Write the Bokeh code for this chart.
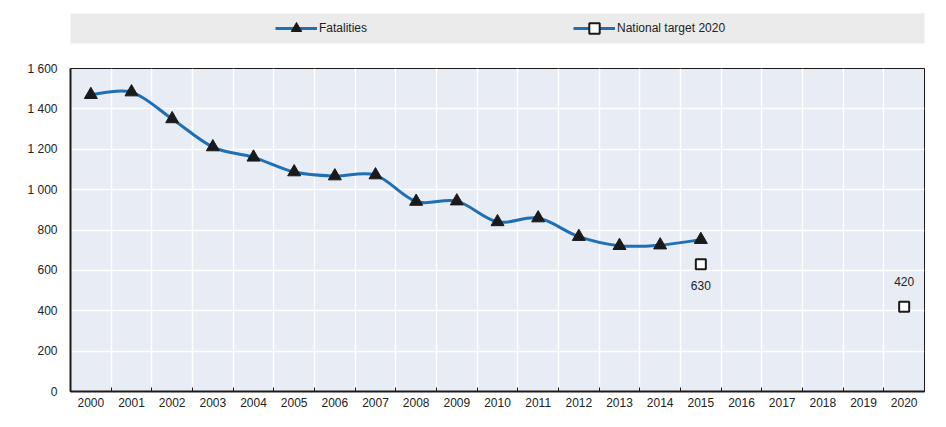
from bokeh.plotting import figure
from bokeh.models import Range1d, FixedTicker, Legend, LegendItem
from bokeh.layouts import column
from bokeh.embed import file_html
from bokeh.resources import INLINE
from bokeh.core.properties import value

# ---- data ----
years = list(range(2000, 2021))
fatal_years = list(range(2000, 2016))
fatalities = [1470, 1483, 1350, 1211, 1160, 1087, 1067, 1072, 941, 943,
              840, 859, 767, 722, 725, 752]
target_years = [2015, 2020]
target_values = [630, 420]
y_ticks = [0, 200, 400, 600, 800, 1000, 1200, 1400, 1600]
y_tick_labels = ["0", "200", "400", "600", "800", "1 000", "1 200", "1 400", "1 600"]

FONT = "Liberation Sans"
TXT = "#222222"
BLUE = "#1f6fb5"
DARK = "#1a1a1a"
NAN = float("nan")

def xpos(yr):
    return years.index(yr) + 0.5

fx = [xpos(y) for y in fatal_years]
tx = [xpos(y) for y in target_years]

# smooth (Catmull-Rom) curve as bezier segments through the data points
x0, y0, x1, y1, cx0, cy0, cx1, cy1 = [], [], [], [], [], [], [], []
n = len(fx)
for i in range(n - 1):
    pxm = fx[i - 1] if i > 0 else fx[i]
    pym = fatalities[i - 1] if i > 0 else fatalities[i]
    pxp = fx[i + 2] if i + 2 < n else fx[i + 1]
    pyp = fatalities[i + 2] if i + 2 < n else fatalities[i + 1]
    x0.append(fx[i]); y0.append(fatalities[i])
    x1.append(fx[i + 1]); y1.append(fatalities[i + 1])
    cx0.append(fx[i] + (fx[i + 1] - pxm) / 6.0)
    cy0.append(fatalities[i] + (fatalities[i + 1] - pym) / 6.0)
    cx1.append(fx[i + 1] - (pxp - fx[i]) / 6.0)
    cy1.append(fatalities[i + 1] - (pyp - fatalities[i]) / 6.0)

# ---- legend strip ----
lg = figure(width=946, height=58, output_backend="svg", toolbar_location=None,
            x_range=Range1d(0, 1), y_range=Range1d(0, 1),
            x_axis_type=None, y_axis_type=None,
            min_border_left=70, min_border_right=20, min_border_top=13, min_border_bottom=15)
lg.background_fill_color = "#ebebeb"
lg.border_fill_color = "white"
lg.outline_line_color = None
lg.grid.visible = False

l1 = lg.line(x=[NAN], y=[NAN], line_color=BLUE, line_width=3)
m1 = lg.scatter(x=[NAN], y=[NAN], marker="triangle", fill_color=DARK, line_color=DARK)
l2 = lg.line(x=[NAN], y=[NAN], line_color=BLUE, line_width=3)
m2 = lg.scatter(x=[NAN], y=[NAN], marker="square", fill_color="white", line_color=DARK, line_width=2)

for items, loc in (([LegendItem(label="Fatalities", renderers=[l1, m1])], (205, 2)),
                   ([LegendItem(label="National target 2020", renderers=[l2, m2])], (503, 2))):
    leg = Legend(items=items, location=loc, orientation="horizontal",
                 glyph_width=42, glyph_height=26, label_standoff=2,
                 padding=0, margin=0, border_line_color=None,
                 background_fill_alpha=0,
                 label_text_font=FONT, label_text_font_size="12px",
                 label_text_color=TXT)
    lg.add_layout(leg, "center")

# ---- main chart ----
p = figure(width=946, height=368, output_backend="svg", toolbar_location=None,
           x_range=Range1d(0, len(years)), y_range=Range1d(0, 1600),
           min_border_left=68, min_border_right=22, min_border_top=10, min_border_bottom=35)
p.background_fill_color = "#e8ecf5"
p.border_fill_color = "white"
p.outline_line_color = DARK
p.outline_line_width = 1

centers = [i + 0.5 for i in range(len(years))]
bounds = list(range(0, len(years) + 1))
p.xaxis.ticker = FixedTicker(ticks=centers, minor_ticks=bounds)
p.xaxis.major_label_overrides = {c: str(y) for c, y in zip(centers, years)}
p.xaxis.major_tick_in = 0
p.xaxis.major_tick_out = 0
p.xaxis.minor_tick_in = 4
p.xaxis.minor_tick_out = 0
p.xaxis.minor_tick_line_color = DARK
p.xaxis.minor_tick_line_width = 1
p.xaxis.major_label_standoff = 6

p.yaxis.ticker = FixedTicker(ticks=y_ticks)
p.yaxis.major_label_overrides = {t: s for t, s in zip(y_ticks, y_tick_labels)}
p.yaxis.minor_tick_line_color = None
p.yaxis.major_tick_in = 0
p.yaxis.major_tick_out = 5
p.yaxis.major_label_standoff = 8

for ax in (p.xaxis, p.yaxis):
    ax.axis_line_color = DARK
    ax.axis_line_width = 2
    ax.major_tick_line_color = DARK if ax is p.yaxis else None
    ax.major_label_text_font = FONT
    ax.major_label_text_font_size = "12px"
    ax.major_label_text_color = TXT

p.xgrid.ticker = FixedTicker(ticks=bounds[1:-1])
p.xgrid.grid_line_color = "white"
p.xgrid.grid_line_width = 1.5
p.ygrid.ticker = FixedTicker(ticks=y_ticks[1:-1])
p.ygrid.grid_line_color = "white"
p.ygrid.grid_line_width = 1.5

p.bezier(x0=x0, y0=y0, x1=x1, y1=y1, cx0=cx0, cy0=cy0, cx1=cx1, cy1=cy1,
         line_color=BLUE, line_width=3)
p.scatter(x=fx, y=fatalities, marker="triangle", size=13,
          fill_color=DARK, line_color=DARK)
p.scatter(x=tx, y=target_values, marker="square", size=10,
          fill_color="white", line_color=DARK, line_width=2)

p.text(x=[tx[0]], y=[target_values[0]], text=[str(target_values[0])],
       y_offset=21, text_align="center", text_baseline="middle",
       text_font=value(FONT), text_font_size="12px", text_color=TXT)
p.text(x=[tx[1]], y=[target_values[1]], text=[str(target_values[1])],
       y_offset=-25, text_align="center", text_baseline="middle",
       text_font=value(FONT), text_font_size="12px", text_color=TXT)

layout = column(lg, p, spacing=0)
open("out.html", "w").write(file_html(layout, INLINE))
